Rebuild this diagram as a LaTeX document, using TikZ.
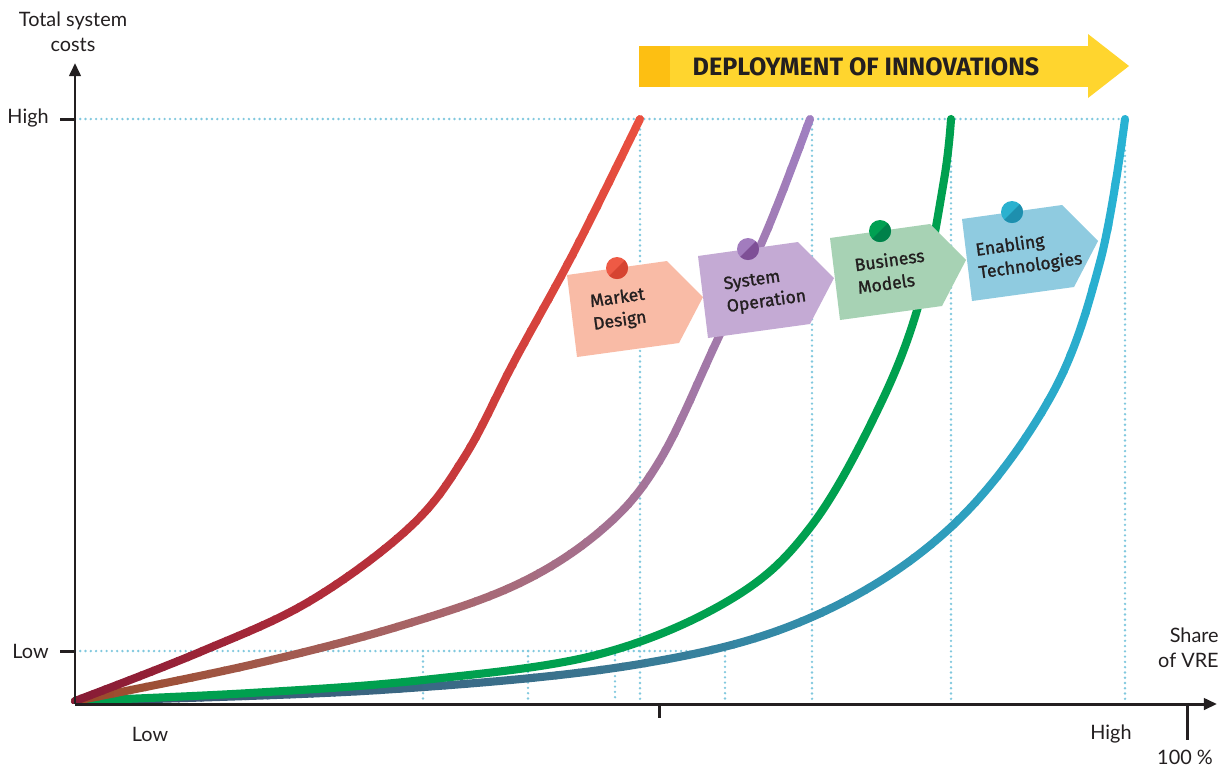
\documentclass[tikz,border=0pt]{standalone}
\usepackage{fontspec}
\setmainfont{Lato}
\newfontfamily\tagfont[FakeBold=1.2]{Fira Sans}
\newfontfamily\banfont{Fira Sans}
\usetikzlibrary{arrows.meta}
\definecolor{ink}{HTML}{231F20}
\definecolor{dotc}{HTML}{80C8DE}
\definecolor{banY}{HTML}{FFD52E}
\definecolor{banD}{HTML}{FDBF12}
\definecolor{tagR}{HTML}{F9BBA6}
\definecolor{tagP}{HTML}{C4AAD4}
\definecolor{tagG}{HTML}{A7D2B4}
\definecolor{tagB}{HTML}{8FCBE0}
\definecolor{dRl}{HTML}{EE5A45}\definecolor{dRd}{HTML}{D64431}
\definecolor{dPl}{HTML}{A27CBE}\definecolor{dPd}{HTML}{7E4F96}
\definecolor{dGl}{HTML}{00A052}\definecolor{dGd}{HTML}{00814A}
\definecolor{dBl}{HTML}{2BB1CF}\definecolor{dBd}{HTML}{1E8FAE}
\definecolor{r0}{HTML}{861B35}\definecolor{r1}{HTML}{B52E3A}\definecolor{r2}{HTML}{EA503F}
\definecolor{p0}{HTML}{9A4A28}\definecolor{p1}{HTML}{A8666C}\definecolor{p2}{HTML}{A07FC0}
\definecolor{b0}{HTML}{3B4F6C}\definecolor{b1}{HTML}{3A7590}\definecolor{b2}{HTML}{28B2D3}
\definecolor{grn}{HTML}{00A04F}
\tikzset{
  crv/.style={line width=4.6pt,line cap=round,line join=round},
  axisline/.style={ink,line width=1.7pt},
  dotline/.style={dotc,line width=1.5pt,line cap=round,dash pattern=on 0pt off 3pt},
  lbl/.style={text=ink,inner sep=0pt,font=\fontsize{11.3}{14}\selectfont},
  tagtxt/.style={text=ink,inner sep=0pt,align=left,rotate=8,font=\tagfont\fontsize{10}{13}\selectfont},
}
\newcommand\gradcurve[6]{%
 \pgfmathsetmacro\gstep{(#3-#2+16)/48}%
 \foreach \i in {0,...,47}{%
  \pgfmathsetmacro\xa{#2-8+\gstep*\i}%
  \pgfmathsetmacro\xb{#2-8+\gstep*(\i+1)+1.5}%
  \pgfmathtruncatemacro\p{round(200*\i/47)}%
  \ifnum\p<100 \colorlet{gc}{#5!\p!#4}\else\pgfmathtruncatemacro\q{\p-100}\colorlet{gc}{#6!\q!#5}\fi
  \begin{scope}\clip (\xa,90) rectangle (\xb,703);
   \draw[crv,gc] plot[smooth,tension=0.6] coordinates {#1};
  \end{scope}}}
\newcommand\pintag[6]{%
 \begin{scope}[shift={(#2,#3)}]
  \fill[#4] (0,0) -- (100,-14) -- (136,22) -- (112,68) -- (10,82) -- cycle;
  \fill[#5] (50,-7) circle (11);
  \begin{scope}\clip (50,-7) circle (11);
   \fill[#6] (35,8) -- (65,-22) -- (65,8) -- cycle;
  \end{scope}
 \end{scope}}
\begin{document}
\begin{tikzpicture}[x=0.02cm,y=-0.02cm]
\useasboundingbox (0,0) rectangle (1230,769);
\fill[white] (0,0) rectangle (1230,769);
% dotted guide lines
\draw[dotline] (75,119) -- (1125,119);
\draw[dotline] (75,651) -- (687,651);
\foreach \xx/\ya in {423/651,528/651,615/655,640/119,725/651,812/119,951/119,1125/119}
  \draw[dotline] (\xx,\ya) -- (\xx,700);
% curves
\gradcurve{(75,701) (380,690) (640,664) (812,617) (950,528) (1050,398) (1100,262) (1125,119)}{75}{1125}{b0}{b1}{b2}
\begin{scope}\clip (60,90) rectangle (1000,703);
\draw[crv,grn] plot[smooth,tension=0.6] coordinates {(75,701) (250,693) (423,680) (600,654) (733,598) (812,525) (880,405) (920,300) (944,180) (951,119)};
\end{scope}
\gradcurve{(75,701) (250,665) (400,626) (520,583) (605,527) (660,460) (715,345) (768,228) (810,119)}{75}{810}{p0}{p1}{p2}
\gradcurve{(75,701) (200,652) (310,601) (410,527) (465,456) (515,360) (575,250) (640,119)}{75}{640}{r0}{r1}{r2}
% axes
\coordinate (O) at (75,704);
\coordinate (Ytop) at (75,63);
\coordinate (Xend) at (1217,704);
\draw[axisline,-{Triangle[length=7.5pt,width=6.5pt]}] (O) -- (Ytop);
\draw[axisline,-{Triangle[length=7.5pt,width=6.5pt]}] (74.5,704) -- (Xend);
\draw[axisline] (60,119) -- (75,119);
\draw[axisline] (60,651) -- (75,651);
\draw[axisline] (659,704) -- (659,718);
\draw[axisline] (1187,704) -- (1187,740);
% labels
\node[lbl,align=center] (ylab) at (73,32) {Total system\\costs};
\node[lbl,anchor=east] (yhigh) at (49,118) {High};
\node[lbl,anchor=east] (ylow) at (49,651) {Low};
\node[lbl] (xlow) at (150,734) {Low};
\node[lbl] (xhigh) at (1111,734) {High};
\node[lbl,align=right,anchor=east] (xlab) at (1219,648) {Share\\of VRE};
\node[lbl] (p100) at (1185,757) {100 \%};
% banner
\fill[banY] (639,46) rectangle (1090,87);
\fill[banY] (1088,34) -- (1129,66) -- (1088,98) -- cycle;
\fill[banD] (639,46) rectangle (670,87);
\node[text=ink,inner sep=0pt,font=\banfont\bfseries\fontsize{14.3}{16}\selectfont] (dep) at (866,67) {DEPLOYMENT OF INNOVATIONS};
% tags
\pintag{md}{567}{275}{tagR}{dRl}{dRd}
\pintag{so}{698}{256}{tagP}{dPl}{dPd}
\pintag{bm}{830}{238}{tagG}{dGl}{dGd}
\pintag{et}{962}{219}{tagB}{dBl}{dBd}
\node[tagtxt] (tmd) at (619,310) {Market\\Design};
\node[tagtxt] (tso) at (765,291) {System\\Operation};
\node[tagtxt] (tbm) at (891,271) {Business\\Models};
\node[tagtxt] (tet) at (1029,255) {Enabling\\Technologies};
\end{tikzpicture}
\end{document}
